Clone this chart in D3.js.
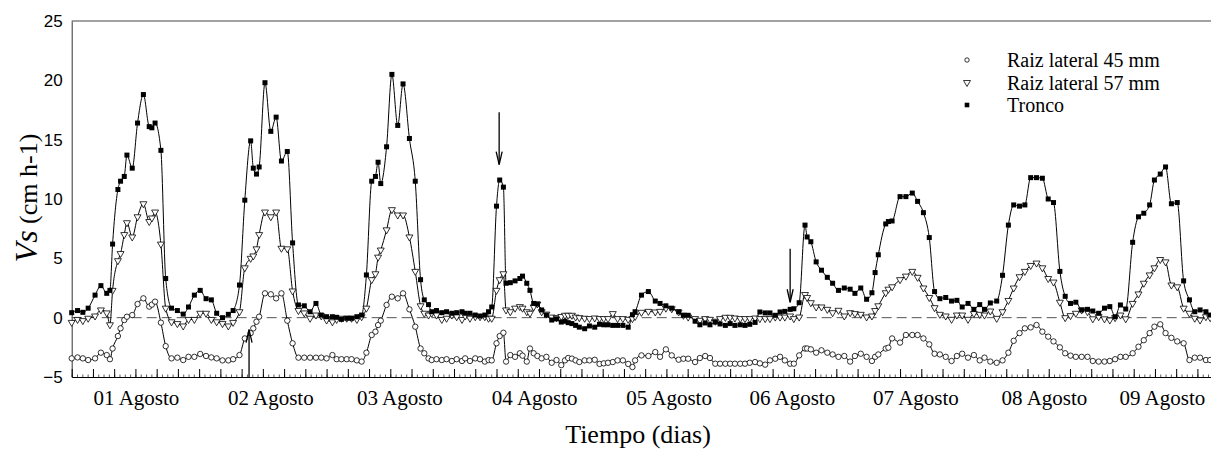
<!DOCTYPE html>
<html>
<head>
<meta charset="utf-8">
<script src="https://cdn.jsdelivr.net/npm/d3@7"></script>
<style>
  body { margin: 0; background: #fff; }
</style>
</head>
<body>
<div id="chart"></div>
<script>
// sample times (hours since 01 Agosto 00:00)
const hours = [
  0, 1.1, 2.1, 3.1, 4.4, 5.5, 6.6, 7.2, 7.7, 8.7,
  9.2, 9.9, 10.4, 11.4, 12.4, 13.5, 14.6, 15.1, 15.7, 16.8,
  17.7, 18.8, 19.9, 21.0, 22.0, 23.1, 24.2, 25.3, 26.3, 27.3,
  28.4, 29.5, 30.4, 31.6, 32.6, 33.7, 34.2, 34.8, 35.3, 36.4,
  37.5, 38.5, 39.5, 40.6, 41.6, 42.7, 43.8, 44.9, 46.0, 47.0,
  48.0, 49.1, 49.9, 50.8, 51.8, 52.7, 53.7, 54.6, 55.5, 56.5,
  57.2, 57.7, 58.2, 59.3, 60.3, 61.4, 62.4, 63.6, 64.7, 65.7,
  66.4, 67.2, 67.8, 68.7, 69.7, 70.6, 71.6, 72.5, 73.5, 74.1,
  75.0, 76.0, 76.9, 77.8, 78.5, 79.1, 80.0, 80.6, 81.3, 81.8,
  82.6, 83.5, 84.4, 84.9, 85.7, 86.3, 87.0, 87.7, 88.5, 89.4,
  90.4, 91.3, 92.2, 92.9, 93.5, 94.2, 94.9, 95.6, 96.6, 97.5,
  98.5, 99.4, 100.2, 101.0, 101.9, 102.8, 103.8, 104.8, 105.6, 106.1,
  107.3, 108.6, 109.9, 110.8, 111.9, 113.0, 114.3, 115.2, 116.1, 117.4,
  118.3, 119.3, 120.2, 121.2, 122.1, 123.1, 124.0, 124.9, 125.9, 126.8,
  127.7, 128.7, 129.6, 130.6, 131.5, 132.5, 133.4, 134.3, 135.3, 136.0,
  137.0, 138.1, 138.5, 139.2, 140.2, 141.2, 142.3, 143.3, 144.4, 145.5,
  146.6, 147.5, 148.6, 149.7, 150.7, 151.3, 151.9, 153.3, 153.8, 154.5,
  156.0, 157.1, 158.3, 159.3, 160.4, 161.5, 162.5, 163.5, 164.6, 165.7,
  166.7, 167.7, 168.8, 169.9, 171.0, 171.9, 173.0, 174.2, 175.3, 176.4,
  177.4, 178.5, 179.5, 180.6, 181.7, 182.8, 183.9, 184.9, 186.1, 187.1,
  188.1, 189.1, 190.2, 191.3, 192.3, 193.4, 194.5, 195.5, 196.5, 197.5,
  198.5, 199.8, 200.9, 201.9, 203.0, 203.9, 205.0, 206.0, 207.1, 208.2,
  209.4, 210.5, 211.5, 212.5, 213.6, 214.4
];

const tronco = [
  0.42, 0.6, 0.45, 0.8, 1.9, 2.7, 2.05, 2.3, 6.2, 10.8,
  11.5, 11.9, 13.7, 12.6, 16.4, 18.8, 16.1, 16.0, 16.4, 14.1,
  3.3, 0.8, 0.6, 0.3, 0.9, 1.9, 2.3, 1.6, 1.5, 0.37,
  0.0, 0.28, 0.6, 2.75, 9.9, 14.9, 12.6, 12.1, 12.7, 19.8,
  15.7, 16.9, 13.2, 14.0, 6.3, 1.07, 1.0, 0.5, 1.2, 0.22,
  0.08, 0.08, 0.03, -0.14, -0.05, -0.05, 0.08, 0.22, 3.6, 11.5,
  11.9, 13.1, 11.3, 14.4, 20.5, 16.2, 19.7, 15.1, 11.5, 3.2,
  1.5, 1.1, 0.5, 0.6, 0.42, 0.5, 0.37, 0.42, 0.5, 0.37,
  0.37, 0.22, 0.14, 0.22, 0.5, 0.9, 9.4, 11.6, 11.0, 2.9,
  2.95, 3.1, 3.3, 3.5, 2.9, 2.3, 1.2, 1.15, 0.65, 0.22,
  -0.2, -0.1, -0.37, -0.3, -0.42, -0.5, -0.65, -0.8, -0.93, -0.7,
  -0.8, -0.56, -0.6, -0.6, -0.65, -0.65, -0.65, -0.8, 0.25, 0.5,
  1.9, 2.2, 1.4, 1.2, 1.0, 0.8, 0.5, 0.2, 0.2, -0.3,
  -0.6, -0.45, -0.6, -0.37, -0.53, -0.65, -0.5, -0.65, -0.6, -0.65,
  -0.56, -0.4, 0.48, 0.4, 0.4, 0.2, 0.48, 0.53, 0.7, 0.75,
  1.26, 7.8, 6.8, 6.4, 4.7, 4.0, 3.4, 2.9, 2.3, 2.5,
  2.4, 2.05, 2.5, 1.55, 2.1, 3.8, 5.3, 7.9, 8.1, 8.15,
  10.2, 10.2, 10.5, 9.8, 8.85, 6.75, 2.2, 1.6, 1.7, 1.4,
  1.46, 0.9, 1.2, 0.7, 1.1, 0.7, 1.24, 1.4, 3.57, 7.8,
  9.5, 9.4, 9.5, 11.8, 11.8, 11.75, 10.0, 9.7, 3.9, 1.8,
  1.2, 1.3, 0.65, 0.7, 0.56, 0.37, 0.8, 0.93, 0.08, 1.07,
  0.73, 6.35, 8.5, 8.8, 9.5, 11.6, 12.1, 12.7, 9.6, 9.7,
  3.1, 1.5, 0.5, 0.65, 0.5, 0.22
];

const raiz57 = [
  -0.4, -0.15, -0.25, -0.05, 0.14, 0.65, 0.4, -0.6, 2.3, 4.8,
  5.4, 7.0, 8.0, 6.8, 8.5, 9.6, 8.1, 8.4, 8.9, 6.2,
  0.8, -0.35, -0.5, -0.7, -0.15, -0.15, 0.37, 0.37, -0.15, -0.35,
  -0.5, -0.7, -0.4, 0.5, 4.2, 5.0, 5.2, 5.8, 7.0, 8.9,
  8.5, 8.9, 5.85, 5.8, 2.25, 0.6, 0.4, -0.05, 0.22, 0.15,
  -0.2, -0.35, -0.15, -0.05, -0.05, -0.05, -0.15, 0.08, 0.8, 3.2,
  3.7, 5.1, 5.7, 7.4, 9.1, 8.65, 8.65, 6.8, 3.9, 1.0,
  0.37, 0.22, 0.37, 0.22, -0.15, -0.05, 0.22, 0.08, -0.15, 0.14,
  -0.05, 0.08, 0.08, 0.08, -0.05, -0.05, 2.3, 3.2, 3.7, 0.65,
  0.5, 0.8, 0.93, 0.8, 0.5, 0.37, 0.9, 1.15, 0.5, 0.3,
  0.05, 0.0, 0.1, 0.2, 0.2, 0.2, 0.05, 0.0, -0.05, -0.08,
  -0.03, -0.08, -0.08, -0.08, 0.34, -0.08, -0.08, -0.14, -0.08, 0.1,
  0.45, 0.53, 0.48, 0.53, 0.8, 0.75, 0.48, 0.2, 0.05, -0.08,
  -0.22, -0.08, -0.14, -0.3, -0.08, 0.03, 0.03, -0.03, -0.08, -0.08,
  -0.08, -0.03, -0.08, -0.08, -0.08, 0.05, 0.05, 0.05, 0.14, -0.08,
  0.05, 1.95, 1.7, 1.26, 0.9, 0.9, 0.7, 0.42, 0.62, 0.14,
  0.42, 0.34, 0.28, 0.06, 0.14, 0.6, 1.0, 2.1, 2.4, 2.6,
  3.2, 3.5, 3.9, 3.4, 2.5, 1.7, 0.84, 0.28, 0.14, -0.14,
  0.22, 0.22, -0.14, 0.34, 0.28, 0.22, 0.56, -0.06, 0.5, 1.45,
  2.5, 3.45, 3.9, 4.4, 4.6, 4.2, 3.3, 3.0, 1.3, 0.0,
  0.17, 0.37, 0.65, 0.5, -0.1, 0.08, -0.1, -0.2, 0.0, 0.22,
  -0.1, 1.2, 2.0, 2.9, 3.6, 4.2, 4.9, 4.7, 2.75, 2.6,
  0.8, 0.37, -0.05, -0.2, 0.08, 0.0
];

const raiz45 = [
  -3.43, -3.35, -3.43, -3.57, -3.43, -2.95, -3.15, -3.5, -2.6, -1.55,
  -0.9, -0.2, 0.08, 0.22, 1.15, 1.63, 0.93, 1.1, 1.35, -0.42,
  -2.4, -3.43, -3.37, -3.57, -3.3, -3.3, -3.06, -3.23, -3.35, -3.43,
  -3.6, -3.6, -3.5, -3.15, -1.75, -1.3, -0.9, -0.34, 0.08, 2.05,
  1.97, 1.63, 2.05, -0.25, -2.16, -3.37, -3.37, -3.37, -3.37, -3.37,
  -3.43, -3.15, -3.5, -3.5, -3.5, -3.5, -3.6, -3.7, -2.95, -1.46,
  -1.18, -0.62, -0.25, 1.07, 1.77, 1.63, 2.05, 0.7, -0.76, -2.6,
  -3.0, -3.43, -3.57, -3.5, -3.57, -3.5, -3.65, -3.5, -3.65, -3.43,
  -3.65, -3.43, -3.5, -3.7, -3.57, -3.6, -2.16, -1.55, -1.27, -3.7,
  -3.15, -3.3, -3.0, -3.2, -3.7, -2.6, -3.0, -3.23, -3.43, -3.3,
  -3.8, -3.57, -4.0, -3.6, -3.4, -3.45, -3.6, -3.74, -3.6, -3.6,
  -3.55, -3.9, -3.85, -3.8, -3.74, -3.6, -3.6, -3.9, -4.16, -3.6,
  -3.18, -3.23, -2.9, -3.3, -2.67, -3.18, -3.54, -3.46, -3.46, -3.74,
  -3.4, -3.23, -3.4, -3.88, -3.88, -3.88, -3.88, -3.88, -3.88, -3.88,
  -3.8, -3.74, -3.85, -3.96, -3.6, -3.46, -3.3, -3.6, -3.88, -3.88,
  -3.18, -2.6, -2.6, -2.67, -2.95, -2.75, -2.95, -3.1, -3.3, -3.23,
  -3.7, -3.23, -3.04, -3.3, -3.65, -3.3, -3.1, -2.6, -2.53, -1.75,
  -2.1, -1.46, -1.46, -1.46, -1.75, -2.25, -3.04, -3.1, -3.3, -3.65,
  -3.23, -3.04, -3.37, -3.15, -3.6, -3.37, -3.7, -3.8, -3.6, -2.95,
  -1.95, -1.3, -0.9, -0.82, -0.62, -1.18, -1.6, -2.0, -2.5, -3.0,
  -3.2, -3.3, -3.3, -3.3, -3.65, -3.7, -3.7, -3.65, -3.5, -3.3,
  -3.3, -3.0, -2.45, -1.9, -1.3, -0.76, -0.56, -1.3, -1.7, -2.0,
  -2.16, -3.57, -3.37, -3.37, -3.57, -3.57
];

const yTicks = [-5, 0, 5, 10, 15, 20, 25];
const dayLabels = ["01 Agosto", "02 Agosto", "03 Agosto", "04 Agosto", "05 Agosto",
  "06 Agosto", "07 Agosto", "08 Agosto", "09 Agosto"];
const labelHours = [12.2, 37.5, 61.8, 87.2, 112.5, 135.7, 159.0, 183.2, 205.4];
// arrows: hour, tail value, tip value
const arrows = [[33.4, -5, -1.0], [80.5, 17.3, 12.9], [135.3, 5.8, 1.3]];
const seriesNames = ["Raiz lateral 45 mm", "Raiz lateral 57 mm", "Tronco"];

const W = 1211, H = 450;
const serif = "'Liberation Serif', 'Times New Roman', serif";
const sans = "'Liberation Sans', Arial, sans-serif";

const svg = d3.select("#chart")
  .append("svg")
  .attr("width", W)
  .attr("height", H)
  .style("background", "#fff");

const x = d3.scaleLinear().domain([0, 216]).range([71.7, 71.7 + 216 * 5.31]);
const y = d3.scaleLinear().domain([-5, 25]).range([377, 21]);

// frame: top line and left axis
svg.append("line")
  .attr("x1", x(0)).attr("x2", W)
  .attr("y1", y(25)).attr("y2", y(25))
  .attr("stroke", "#444").attr("stroke-width", 1);

svg.append("g")
  .attr("transform", `translate(${x(0)},0)`)
  .call(d3.axisLeft(y).tickValues(yTicks).tickSize(0).tickPadding(9).tickSizeOuter(0))
  .call(g => g.select(".domain").attr("stroke", "#333"))
  .call(g => g.selectAll("text").style("font-family", sans).style("font-size", "17px").attr("fill", "#000"));

// minor (hourly) and major (4 h) ticks on the bottom axis
svg.append("g")
  .attr("transform", `translate(0,${y(-5)})`)
  .call(d3.axisBottom(x).tickValues(d3.range(0, 217, 1)).tickSize(-2.5).tickSizeOuter(0).tickFormat(""))
  .call(g => g.select(".domain").attr("stroke", "#000"))
  .call(g => g.selectAll(".tick line").attr("stroke", "#333").attr("stroke-width", 0.8));

svg.append("g")
  .attr("transform", `translate(0,${y(-5)})`)
  .call(d3.axisBottom(x).tickValues(d3.range(0, 217, 4)).tickSize(-8).tickSizeOuter(0).tickFormat(""))
  .call(g => g.select(".domain").remove())
  .call(g => g.selectAll(".tick line").attr("stroke", "#000"));

// day labels
svg.append("g")
  .selectAll("text")
  .data(dayLabels)
  .join("text")
  .attr("x", (d, i) => x(labelHours[i]))
  .attr("y", 405)
  .attr("text-anchor", "middle")
  .style("font-family", serif)
  .style("font-size", "21px")
  .text(d => d);

svg.append("text")
  .attr("x", 638)
  .attr("y", 443)
  .attr("text-anchor", "middle")
  .style("font-family", serif)
  .style("font-size", "26px")
  .text("Tiempo (dias)");

const yTitle = svg.append("text")
  .attr("transform", "translate(37,198) rotate(-90)")
  .attr("text-anchor", "middle")
  .style("font-family", serif);
yTitle.append("tspan").style("font-style", "italic").style("font-size", "32px").text("Vs");
yTitle.append("tspan").style("font-size", "26px").text(" (cm h-1)");

// zero reference line
svg.append("line")
  .attr("x1", x(0)).attr("x2", W)
  .attr("y1", y(0)).attr("y2", y(0))
  .attr("stroke", "#555")
  .attr("stroke-width", 1)
  .attr("stroke-dasharray", "10,5");

const n = Math.min(hours.length, tronco.length, raiz57.length, raiz45.length);
const idx = d3.range(n);

const line = vals => d3.line()
  .x(i => x(hours[i]))
  .y(i => y(vals[i]))
  .curve(d3.curveMonotoneX)(idx);

[raiz45, raiz57, tronco].forEach(vals => {
  svg.append("path")
    .attr("d", line(vals))
    .attr("fill", "none")
    .attr("stroke", "#000")
    .attr("stroke-width", 1);
});

// markers
svg.append("g")
  .selectAll("circle")
  .data(idx)
  .join("circle")
  .attr("cx", i => x(hours[i]))
  .attr("cy", i => y(raiz45[i]))
  .attr("r", 2.7)
  .attr("fill", "#fff")
  .attr("stroke", "#000")
  .attr("stroke-width", 0.8);

const tri = d3.symbol(d3.symbolTriangle, 21);
svg.append("g")
  .selectAll("path")
  .data(idx)
  .join("path")
  .attr("d", tri)
  .attr("transform", i => `translate(${x(hours[i])},${y(raiz57[i])}) rotate(180)`)
  .attr("fill", "#fff")
  .attr("stroke", "#000")
  .attr("stroke-width", 0.8);

svg.append("g")
  .selectAll("rect")
  .data(idx)
  .join("rect")
  .attr("x", i => x(hours[i]) - 2.5)
  .attr("y", i => y(tronco[i]) - 2.5)
  .attr("width", 5)
  .attr("height", 5)
  .attr("fill", "#000");

// arrows
arrows.forEach(([h, from, to]) => {
  const ax = x(h), y0 = y(from), y1 = y(to);
  const dir = y0 > y1 ? 1 : -1;
  svg.append("line")
    .attr("x1", ax).attr("x2", ax)
    .attr("y1", y0).attr("y2", y1)
    .attr("stroke", "#000").attr("stroke-width", 1.3);
  svg.append("path")
    .attr("d", `M${ax - 3},${y1 + dir * 13}L${ax},${y1}L${ax + 3},${y1 + dir * 13}`)
    .attr("fill", "none").attr("stroke", "#000").attr("stroke-width", 1.3);
});

// legend
const legend = svg.append("g").attr("transform", "translate(967,0)");
const rowY = [60, 82.5, 105];
seriesNames.forEach((name, i) => {
  legend.append("text")
    .attr("x", 40)
    .attr("y", rowY[i])
    .attr("dy", "0.35em")
    .style("font-family", serif)
    .style("font-size", "20px")
    .text(name);
});
legend.append("circle").attr("cx", 0).attr("cy", rowY[0]).attr("r", 2.2)
  .attr("fill", "#fff").attr("stroke", "#000").attr("stroke-width", 0.8);
legend.append("path").attr("d", tri)
  .attr("transform", `translate(0,${rowY[1]}) rotate(180)`)
  .attr("fill", "#fff").attr("stroke", "#000").attr("stroke-width", 0.8);
legend.append("rect").attr("x", -2.3).attr("y", rowY[2] - 2.3)
  .attr("width", 4.6).attr("height", 4.6).attr("fill", "#000");
</script>
</body>
</html>
